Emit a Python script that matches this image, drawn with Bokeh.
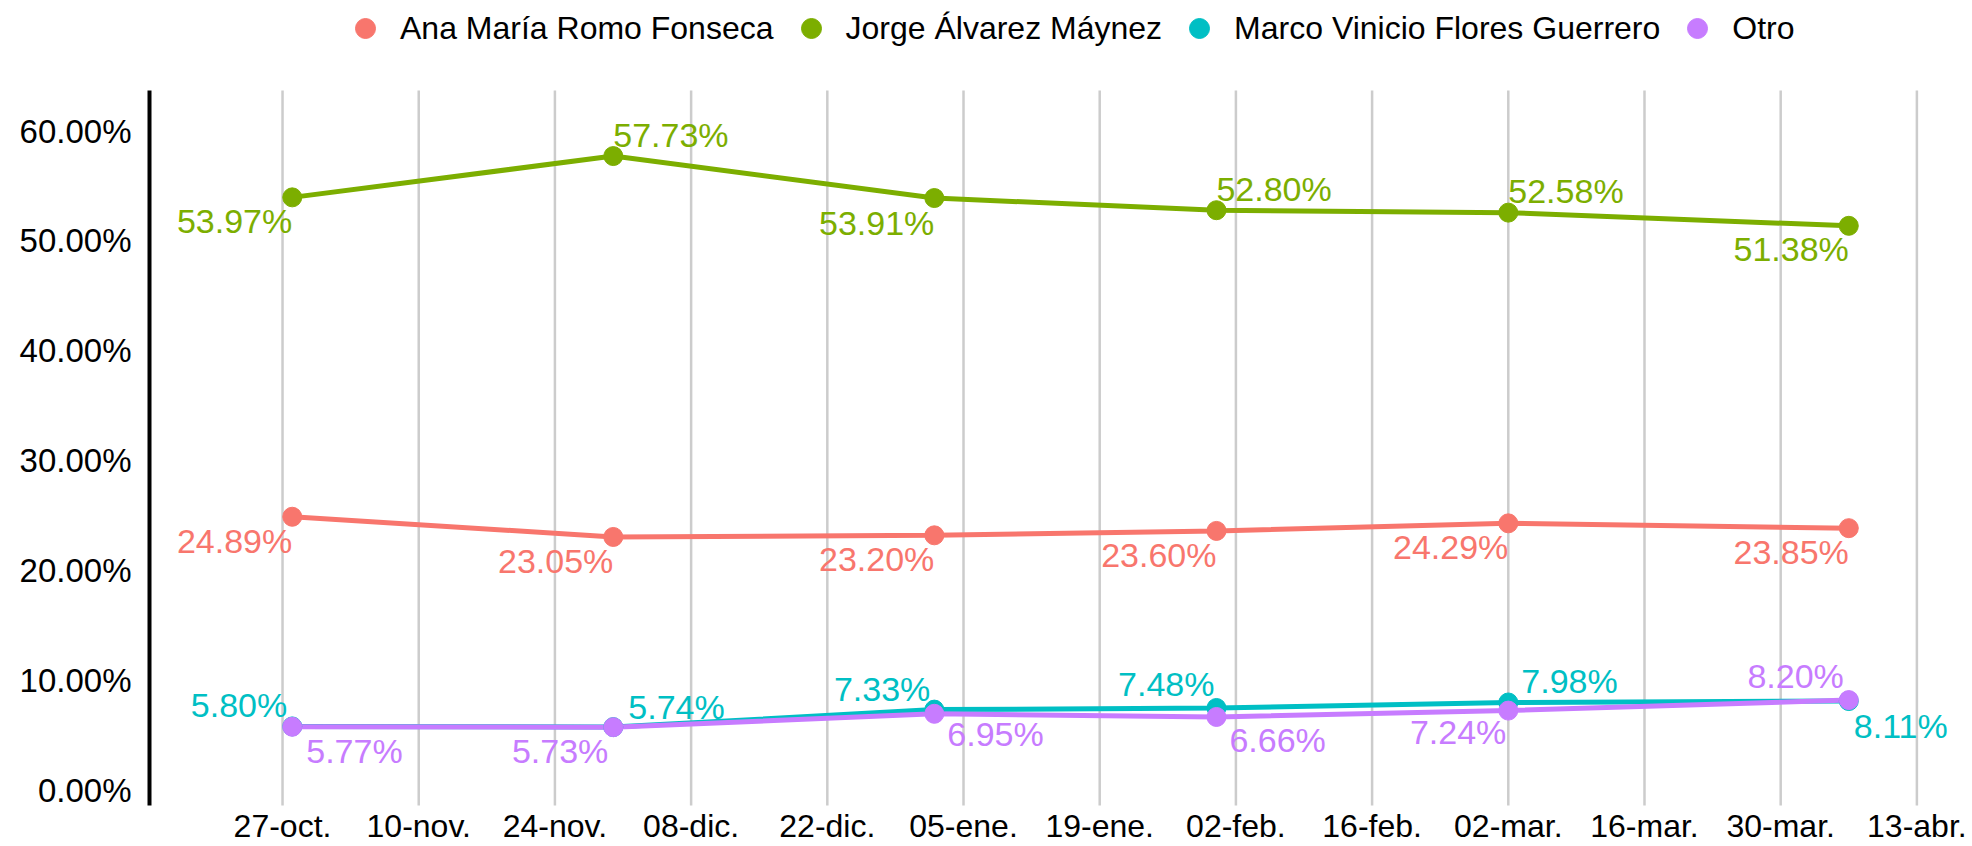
import datetime as dt
from bokeh.plotting import figure
from bokeh.models import (ColumnDataSource, Range1d, FixedTicker,
                          PrintfTickFormatter, Legend, LegendItem)
from bokeh.core.properties import value
from bokeh.embed import file_html
from bokeh.resources import INLINE

# ---------------- data ----------------
SERIES = ["Ana María Romo Fonseca", "Jorge Álvarez Máynez",
          "Marco Vinicio Flores Guerrero", "Otro"]
DATES = ["2024-10-28", "2024-11-30", "2025-01-02",
         "2025-01-31", "2025-03-02", "2025-04-06"]
ANA = [24.89, 23.05, 23.20, 23.60, 24.29, 23.85]
JORGE = [53.97, 57.73, 53.91, 52.80, 52.58, 51.38]
MARCO = [5.80, 5.74, 7.33, 7.48, 7.98, 8.11]
OTRO = [5.77, 5.73, 6.95, 6.66, 7.24, 8.20]

TICK_DATES = ["2024-10-27", "2024-11-10", "2024-11-24", "2024-12-08",
              "2024-12-22", "2025-01-05", "2025-01-19", "2025-02-02",
              "2025-02-16", "2025-03-02", "2025-03-16", "2025-03-30",
              "2025-04-13"]
TICK_LABELS = ["27-oct.", "10-nov.", "24-nov.", "08-dic.", "22-dic.",
               "05-ene.", "19-ene.", "02-feb.", "16-feb.", "02-mar.",
               "16-mar.", "30-mar.", "13-abr."]
Y_TICKS = [0, 10, 20, 30, 40, 50, 60]

# ---------------- style ----------------
COLORS = ["#F8766D", "#7CAE00", "#00BFC4", "#C77CFF"]
FONT = "Liberation Sans"
# label placement per point: (align, dx px, dy px; +dy = down)
PLACEMENT = {
    "Ana María Romo Fonseca": [("right", 0, 24)] * 6,
    "Jorge Álvarez Máynez": [("right", 0, 24), ("left", 0, -21), ("right", 0, 25),
                             ("left", 0, -21), ("left", 0, -22), ("right", 0, 23)],
    "Marco Vinicio Flores Guerrero": [("right", -5, -21), ("left", 15, -20), ("right", -4, -21),
                                      ("right", -2, -24), ("left", 13, -21), ("left", 5, 25)],
    "Otro": [("left", 14, 24), ("right", -5, 24), ("left", 13, 20),
             ("left", 13, 23), ("right", -2, 21), ("right", -5, -24)],
}

EPOCH = dt.datetime(1970, 1, 1)
DAY = 86400000.0


def ms(s):
    return (dt.datetime.strptime(s, "%Y-%m-%d") - EPOCH).total_seconds() * 1000.0


x_vals = [ms(d) for d in DATES]
tick_ms = [ms(d) for d in TICK_DATES]

# panel extents (data units); the frame also covers the legend strip on top
# and the date-label strip at the bottom
PX_PER_UNIT = 10.983
X0 = tick_ms[0] - 13.88 * DAY
X1 = tick_ms[0] + 173.1 * DAY
Y_LO, Y_HI = -1.4, 63.7
Y_TOP = Y_HI + 90 / PX_PER_UNIT
Y_BOT = Y_LO - 41 / PX_PER_UNIT

p = figure(width=1972, height=846, output_backend="svg", toolbar_location=None,
           x_range=Range1d(X0, X1), y_range=Range1d(Y_BOT, Y_TOP),
           min_border_left=147, min_border_right=6, min_border_top=0,
           min_border_bottom=0)
p.outline_line_color = None
p.background_fill_color = "white"
p.border_fill_color = "white"

p.xaxis.visible = False

p.yaxis.ticker = FixedTicker(ticks=Y_TICKS)
p.yaxis.formatter = PrintfTickFormatter(format="%.2f%%")
p.yaxis.axis_line_color = None
p.yaxis.major_tick_line_color = None
p.yaxis.minor_tick_line_color = None
p.yaxis.major_label_text_font = FONT
p.yaxis.major_label_text_font_size = "33px"
p.yaxis.major_label_text_color = "black"
p.yaxis.major_label_standoff = 10

p.xgrid.visible = False
p.ygrid.visible = False

# vertical grid lines limited to the panel height
p.segment(x0=tick_ms, y0=[Y_LO] * len(tick_ms), x1=tick_ms, y1=[Y_HI] * len(tick_ms),
          line_color="#cccccc", line_width=2.5)
# y axis line (half of it falls outside the frame)
p.segment(x0=[X0], y0=[Y_LO], x1=[X0], y1=[Y_HI], line_color="black", line_width=8)
# date tick labels under the panel
p.text(x=tick_ms, y=[Y_LO] * len(tick_ms), text=TICK_LABELS,
       text_font=value(FONT), text_font_size="32px", text_color="black",
       text_align="center", text_baseline="middle", y_offset=21)

values = [ANA, JORGE, MARCO, OTRO]
sources = []
for name, vals in zip(SERIES, values):
    pl = PLACEMENT[name]
    sources.append(ColumnDataSource(dict(
        x=x_vals, y=vals,
        label=[f"{v:.2f}%" for v in vals],
        align=[a for a, _, _ in pl],
        dx=[d for _, d, _ in pl],
        dy=[d for _, _, d in pl],
    )))

for src, col in zip(sources, COLORS):
    p.line("x", "y", source=src, line_color=col, line_width=5)

items = []
for name, src, col in zip(SERIES, sources, COLORS):
    r = p.scatter("x", "y", source=src, size=19, fill_color=col, line_color=col)
    items.append(LegendItem(label=name, renderers=[r]))

for src, col in zip(sources, COLORS):
    p.text("x", "y", text="label", source=src, text_color=col,
           text_font=value(FONT), text_font_size="34px",
           text_align="align", text_baseline="middle",
           x_offset="dx", y_offset="dy")

legend = Legend(items=items, orientation="horizontal", location=(193, 793),
                label_text_font=FONT, label_text_font_size="32px",
                label_text_color="black", glyph_width=50, glyph_height=50,
                label_height=50, label_standoff=10, spacing=12, padding=0, margin=0,
                border_line_color=None, background_fill_alpha=0)
p.add_layout(legend, "center")

open("out.html", "w").write(file_html(p, INLINE))
